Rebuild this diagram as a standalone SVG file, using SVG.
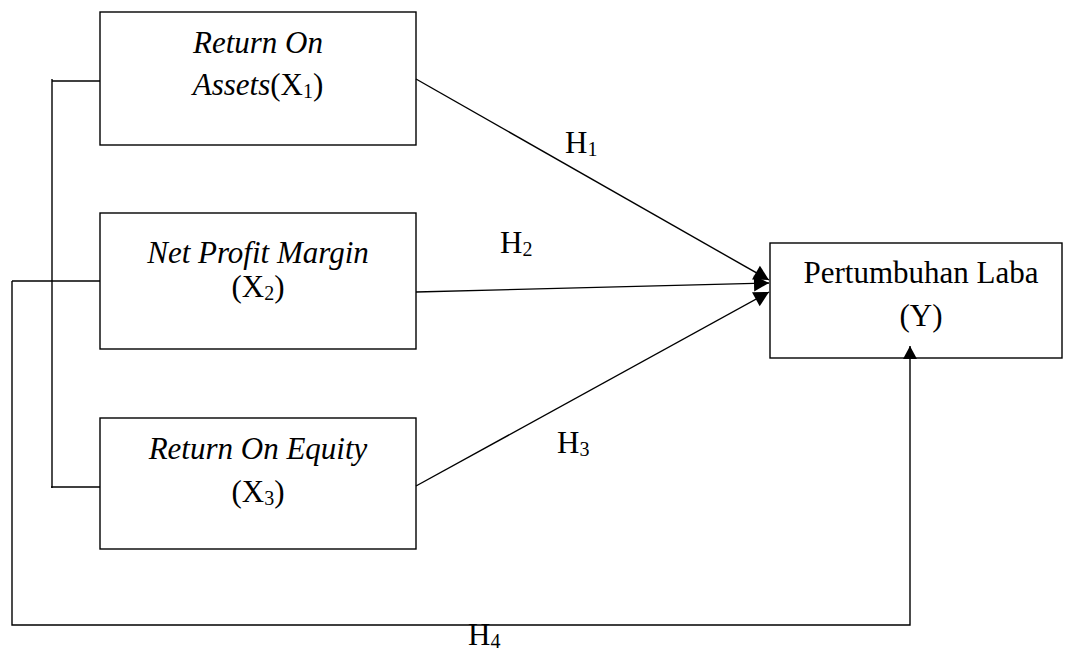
<svg xmlns="http://www.w3.org/2000/svg" width="1065" height="651" viewBox="0 0 1065 651">
<style>
  .box { fill: #fff; stroke: #000; stroke-width: 1.4; }
  .conn { fill: none; stroke: #000; stroke-width: 1.4; }
  .t { font-family: "Liberation Serif", "Times New Roman", serif; font-size: 31px; fill: #000; }
  .c { text-anchor: middle; }
  .i { font-style: italic; }
</style>
<defs>
  <marker id="arr" markerUnits="userSpaceOnUse" markerWidth="17" markerHeight="18" refX="16" refY="9" orient="auto">
    <path d="M1,1 L16,9 L1,17 z" fill="#000"/>
  </marker>
  <marker id="arrUp" markerUnits="userSpaceOnUse" markerWidth="15" markerHeight="16" refX="14" refY="8" orient="auto">
    <path d="M1,1 L14,8 L1,15 z" fill="#000"/>
  </marker>
</defs>
<rect width="1065" height="651" fill="#fff"/>
<g id="node-x1">
  <rect class="box" x="100" y="12" width="316" height="133"/>
  <text class="t c i" x="258" y="53">Return On</text>
  <text class="t c" x="258" y="95"><tspan class="i">Assets</tspan>(X<tspan font-size="20" dy="3">1</tspan><tspan dy="-3">)</tspan></text>
</g>
<g id="node-x2">
  <rect class="box" x="100" y="213" width="316" height="136"/>
  <text class="t c i" x="258" y="263">Net Profit Margin</text>
  <text class="t c" x="258" y="297">(X<tspan font-size="20" dy="3">2</tspan><tspan dy="-3">)</tspan></text>
</g>
<g id="node-x3">
  <rect class="box" x="100" y="418" width="316" height="131"/>
  <text class="t c i" x="258" y="459">Return On Equity</text>
  <text class="t c" x="258" y="502">(X<tspan font-size="20" dy="3">3</tspan><tspan dy="-3">)</tspan></text>
</g>
<g id="node-y">
  <rect class="box" x="770" y="243" width="292" height="115"/>
  <text class="t c" x="921" y="283">Pertumbuhan Laba</text>
  <text class="t c" x="921" y="326">(Y)</text>
</g>
<g id="connectors">
  <path class="conn" d="M52,79 V488"/>
  <path class="conn" d="M52,81 H100"/>
  <path class="conn" d="M51,487 H100"/>
  <path class="conn" d="M12,281 H100"/>
  <path class="conn" d="M12,281 V625 H910 V346" marker-end="url(#arrUp)"/>
  <path class="conn" d="M416,79 L769,280" marker-end="url(#arr)"/>
  <path class="conn" d="M416,292 L769,283" marker-end="url(#arr)"/>
  <path class="conn" d="M416,486 L769,292" marker-end="url(#arr)"/>
  <text class="t" x="565" y="153">H<tspan font-size="20" dy="3">1</tspan></text>
  <text class="t" x="500" y="253">H<tspan font-size="20" dy="3">2</tspan></text>
  <text class="t" x="557" y="453">H<tspan font-size="20" dy="3">3</tspan></text>
  <text class="t" x="468" y="645">H<tspan font-size="20" dy="3">4</tspan></text>
</g>
</svg>
